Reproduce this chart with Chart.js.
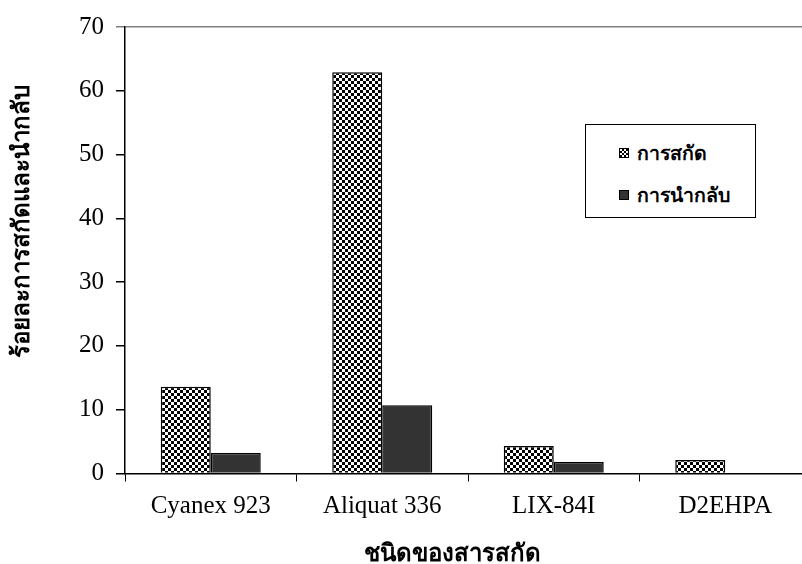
<!DOCTYPE html>
<html>
<head>
<meta charset="utf-8">
<script src="https://cdn.jsdelivr.net/npm/chart.js@4"></script>
<style>
  html, body { margin:0; padding:0; background:#fff; overflow:hidden; }
  #wrap { position:relative; width:811px; height:564px; }
  #legend { position:absolute; left:585px; top:124px; width:169px; height:92px; border:1px solid #000; background:#fff;
            font: bold 19.5px "Noto Sans", "DejaVu Sans", sans-serif; color:#000; }
  .item { position:absolute; left:33px; height:24px; display:flex; align-items:center; }
  .sw { width:10px; height:10px; border:1px solid #000; margin-right:8px; box-sizing:border-box; }
</style>
</head>
<body>
<div id="wrap">
  <canvas id="c" width="811" height="564"></canvas>
  <div id="legend"></div>
</div>
<script>
const categories = ["Cyanex 923", "Aliquat 336", "LIX-84I", "D2EHPA"];
const seriesNames = ["การสกัด", "การนำกลับ"];
const extraction = [13.6, 62.9, 4.3, 2.1];
const stripping = [3.2, 10.7, 1.8, 0];
const yTicks = [0, 10, 20, 30, 40, 50, 60, 70];
const xTitle = "ชนิดของสารสกัด";
const yTitle = "ร้อยละการสกัดและนำกลับ";

// checkerboard pattern
const pc = document.createElement('canvas');
pc.width = 6; pc.height = 6;
const pctx = pc.getContext('2d');
pctx.fillStyle = '#fff'; pctx.fillRect(0,0,6,6);
pctx.fillStyle = '#000'; pctx.fillRect(0,0,3,3); pctx.fillRect(3,3,3,3);
const ctx = document.getElementById('c').getContext('2d');
const checker = ctx.createPattern(pc, 'repeat');

const titlePlugin = {
  id: 'titles',
  afterDraw(chart) {
    const c = chart.ctx;
    c.save();
    c.fillStyle = '#000';
    c.font = 'bold 24px "Noto Sans", "DejaVu Sans", sans-serif';
    c.textAlign = 'center';
    c.textBaseline = 'middle';
    c.fillText(xTitle, 452, 554);
    c.translate(22, 221);
    c.rotate(-Math.PI/2);
    c.fillText(yTitle, 0, 0);
    c.restore();
  }
};

new Chart(ctx, {
  type: 'bar',
  data: {
    labels: categories,
    datasets: [
      { label: seriesNames[0], data: extraction, backgroundColor: checker, borderColor: '#000', borderWidth: 1.5,
        categoryPercentage: 0.583, barPercentage: 1 },
      { label: seriesNames[1], data: stripping, backgroundColor: '#333333', borderColor: '#000', borderWidth: 1.5,
        categoryPercentage: 0.583, barPercentage: 1 }
    ]
  },
  options: {
    responsive: false,
    animation: false,
    layout: { padding: { left: 0, right: 0, top: 24.7, bottom: 0 } },
    plugins: { legend: { display: false }, tooltip: { enabled: false } },
    scales: {
      x: {
        offset: true,
        grid: { display: true, offset: true, drawOnChartArea: false, tickLength: 8, color: '#000', lineWidth: 1 },
        border: { display: true, color: '#000', width: 1.5 },
        ticks: { color: '#000', padding: 10, font: { family: '"Liberation Serif", "Times New Roman", serif', size: 25 }, maxRotation: 0 },
        afterFit(scale) { scale.height = 564 - 24.7 - 448.8; }
      },
      y: {
        min: 0, max: 70,
        afterBuildTicks(scale) { scale.ticks = yTicks.map(v => ({ value: v })); },
        grid: {
          drawOnChartArea: true, tickLength: 9, lineWidth: 1.5,
          color: c => (c.tick && c.tick.value === 70) ? '#808080' : 'rgba(0,0,0,0)',
          tickColor: c => (c.tick && c.tick.value === 70) ? '#808080' : '#000'
        },
        border: { display: true, color: '#000', width: 1.5 },
        ticks: { color: '#000', padding: 12, font: { family: '"Liberation Serif", "Times New Roman", serif', size: 25 } },
        afterFit(scale) { scale.width = 125; }
      }
    }
  },
  plugins: [titlePlugin]
});

// HTML legend
const lg = document.getElementById('legend');
const fills = ['checker', '#333333'];
const tops = [16, 58];
seriesNames.forEach((name, i) => {
  const it = document.createElement('div');
  it.className = 'item';
  it.style.top = tops[i] + 'px';
  const sw = document.createElement('span');
  sw.className = 'sw';
  if (fills[i] === 'checker') {
    sw.style.background = 'repeating-conic-gradient(#000 0 25%, #fff 0 50%) 0 0 / 4px 4px';
  } else {
    sw.style.background = fills[i];
  }
  const tx = document.createElement('span');
  tx.textContent = name;
  it.appendChild(sw); it.appendChild(tx);
  lg.appendChild(it);
});
</script>
</body>
</html>
